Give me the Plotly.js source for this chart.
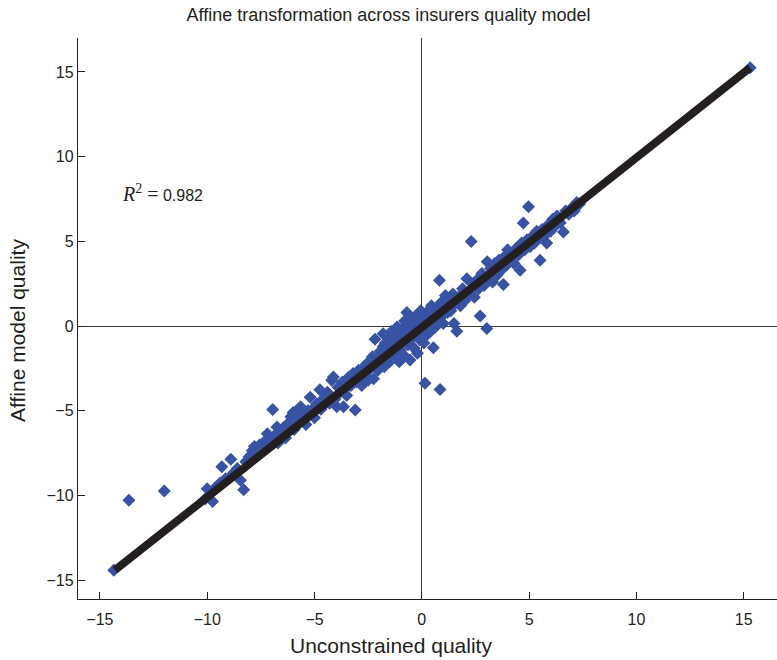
<!DOCTYPE html>
<html>
<head>
<meta charset="utf-8">
<script src="https://cdn.plot.ly/plotly-3.0.1.min.js"></script>
<style>html,body{margin:0;padding:0;background:#fff;}</style>
</head>
<body>
<div id="chart" style="width:777px;height:660px;"></div>
<script>
// Unconstrained quality (x) and affine model quality (y)
const unconstrained = [
  -14.35,-13.65,-12.0,
  -10.1,-10.0,-9.75,-9.6,-9.4,-9.32,-9.15,-8.9,-8.8,-8.6,-8.45,-8.3,-8.2,-8.05,-7.9,-7.8,-7.7,-7.55,-7.4,-7.25,-7.2,-7.05,
  -6.95,-6.9,-6.75,-6.7,-6.6,-6.45,-6.35,-6.2,-6.1,-6.0,-5.95,-5.8,-5.75,-5.65,-5.5,-5.4,-5.3,-5.2,-5.1,-5.0,
  -4.9,-4.75,-4.7,-4.6,-4.5,-4.4,-4.3,-4.2,-4.12,-4.05,-3.96,-3.9,-3.8,-3.7,-3.65,-3.55,-3.5,-3.4,-3.3,-3.2,-3.1,-3.05,
  -2.95,-2.85,-2.8,-2.7,-2.65,-2.55,-2.5,-2.4,-2.3,-2.25,-2.18,-2.1,-2.05,-1.95,-1.9,-1.8,-1.8,-1.75,-1.7,-1.6,-1.55,-1.5,
  -1.45,-1.4,-1.35,-1.3,-1.2,-1.15,-1.1,-1.05,-1.0,-0.95,-0.9,-0.85,-0.8,-0.75,-0.7,-0.65,-0.6,-0.55,-0.5,-0.45,-0.4,
  -0.35,-0.3,-0.25,-0.2,-0.15,-0.1,-0.05,0.0,0.05,0.1,0.15,0.2,0.25,0.3,0.35,0.4,0.45,0.54,0.55,0.6,0.7,0.75,0.82,0.85,
  0.9,0.95,1.0,1.05,1.1,1.2,1.25,1.35,1.45,1.5,1.55,1.63,1.7,1.8,1.9,2.0,2.1,2.2,2.3,2.35,2.45,2.55,2.65,2.72,2.8,2.9,
  3.03,3.05,3.1,3.2,3.3,3.4,3.5,3.6,3.7,3.8,3.85,3.95,4.0,4.1,4.2,4.3,4.4,4.5,4.58,4.65,4.73,4.8,4.9,4.97,5.05,5.15,
  5.25,5.35,5.45,5.51,5.6,5.7,5.82,5.9,6.0,6.1,6.2,6.3,6.45,6.6,6.7,6.85,7.0,7.1,7.22,7.35,15.3
];
const affine = [
  -14.4,-10.27,-9.73,
  -10.2,-9.6,-10.35,-9.5,-9.25,-8.3,-9.0,-7.85,-8.7,-8.4,-9.1,-9.65,-8.0,-7.7,-7.35,-7.1,-7.6,-7.0,-7.2,-6.7,-6.35,-7.0,
  -4.92,-6.5,-5.95,-6.9,-6.3,-6.0,-6.6,-5.7,-5.35,-5.1,-6.1,-4.96,-5.6,-4.75,-5.3,-5.8,-5.0,-4.2,-4.9,-5.4,
  -4.6,-3.75,-4.9,-4.3,-4.6,-3.9,-4.55,-3.2,-3.0,-4.3,-4.76,-3.6,-3.9,-3.3,-4.75,-3.7,-4.1,-3.0,-3.5,-2.8,-4.95,-3.3,
  -2.6,-3.1,-3.5,-2.4,-2.9,-2.2,-3.2,-2.5,-1.8,-3.1,-0.78,-2.0,-2.6,-1.5,-2.2,-1.2,-0.45,-2.4,-1.0,-1.7,-0.7,-2.1,
  -1.3,-0.3,-1.9,-0.9,-1.5,-0.05,-0.6,-2.1,-1.42,-0.2,-0.9,-1.7,0.3,-0.5,0.8,-1.1,-0.1,-2.0,0.4,-0.7,0.1,
  -1.3,0.6,-0.3,-1.6,0.2,-0.8,0.9,-0.2,0.4,-1.0,-3.37,0.5,-0.5,0.9,0.1,-0.3,1.2,-1.27,0.5,-0.1,1.0,0.3,2.7,-3.74,
  1.4,0.6,0.16,1.1,1.8,0.8,1.5,0.9,1.9,0.15,1.3,-0.3,1.7,1.2,2.2,1.5,2.8,1.9,5.0,2.5,1.7,2.7,2.2,0.6,3.1,2.4,
  -0.14,3.8,2.8,3.4,2.6,3.7,3.0,3.9,3.3,2.45,4.1,3.6,4.5,3.8,4.3,3.7,4.6,4.2,3.3,4.9,6.09,4.5,5.1,7.04,4.7,5.3,
  4.9,5.6,5.2,3.89,5.7,5.3,4.9,6.0,5.6,6.3,5.9,6.5,6.1,5.56,6.8,6.6,7.0,6.8,7.3,7.2,15.25
];
// Fitted line end points
const fitX = [-14.3, 15.3];
const fitY = [-14.4, 15.25];
const tickVals = [-15, -10, -5, 0, 5, 10, 15];
const tickText = ['\u221215', '\u221210', '\u22125', '0', '5', '10', '15'];
const chartTitle = 'Affine transformation across insurers quality model';
const xTitle = 'Unconstrained quality';
const yTitle = 'Affine model quality';

const traces = [
  {
    x: unconstrained, y: affine, type: 'scatter', mode: 'markers',
    marker: {symbol: 'diamond', size: 10, color: '#3853a4', line: {width: 0}},
    hoverinfo: 'skip', showlegend: false
  },
  {
    x: fitX, y: fitY, type: 'scatter', mode: 'lines',
    line: {color: '#231f20', width: 8},
    hoverinfo: 'skip', showlegend: false
  }
];

const FONT = 'Liberation Sans, Arial, sans-serif';
const axisCommon = {
  showgrid: false, zeroline: true, zerolinecolor: '#3a3a3a', zerolinewidth: 1,
  showline: true, linecolor: '#231f20', linewidth: 1.2,
  ticks: 'inside', ticklen: 7, tickcolor: '#231f20', tickwidth: 1,
  tickvals: tickVals, ticktext: tickText,
  tickfont: {family: FONT, size: 16, color: '#231f20'}
};

const layout = {
  width: 777, height: 660,
  margin: {l: 78, r: 0, t: 38, b: 61},
  paper_bgcolor: '#fff', plot_bgcolor: '#fff',
  title: {
    text: chartTitle,
    font: {family: FONT, size: 18, color: '#231f20'},
    x: 0.5, xanchor: 'center', y: 0.977, yanchor: 'middle'
  },
  xaxis: Object.assign({}, axisCommon, {range: [-16.02, 16.55], ticklabelstandoff: 6}),
  yaxis: Object.assign({}, axisCommon, {range: [-16.1, 17.0]}),
  annotations: [
    {
      x: -14.05, y: 7.85, xref: 'x', yref: 'y', xanchor: 'left', yanchor: 'middle',
      showarrow: false,
      text: '<span style="font-family:Liberation Serif,Times New Roman,serif;font-size:20px"><i>R</i><sup>2</sup> =</span> 0.982',
      font: {family: FONT, size: 16, color: '#231f20'}
    },
    {
      x: 0.503, y: 645, xref: 'paper', yref: 'paper', showarrow: false,
      text: xTitle, xanchor: 'center', yanchor: 'middle',
      font: {family: FONT, size: 21, color: '#231f20'}
    },
    {
      x: 18, y: 331, xref: 'paper', yref: 'paper', showarrow: false,
      text: yTitle, textangle: -90, xanchor: 'center', yanchor: 'middle',
      font: {family: FONT, size: 21, color: '#231f20'}
    }
  ]
};
// Convert the pixel anchors of the axis titles to paper fractions
(function () {
  const pw = 777 - 78 - 0, ph = 660 - 38 - 61;
  const a1 = layout.annotations[1];
  a1.y = (660 - 61 - a1.y) / ph;
  const a2 = layout.annotations[2];
  a2.x = (a2.x - 78) / pw;
  a2.y = (660 - 61 - a2.y) / ph;
  a1.x = (0.503 * 777 - 78) / pw;
})();

Plotly.newPlot('chart', traces, layout, {displayModeBar: false, staticPlot: true});
</script>
</body>
</html>
